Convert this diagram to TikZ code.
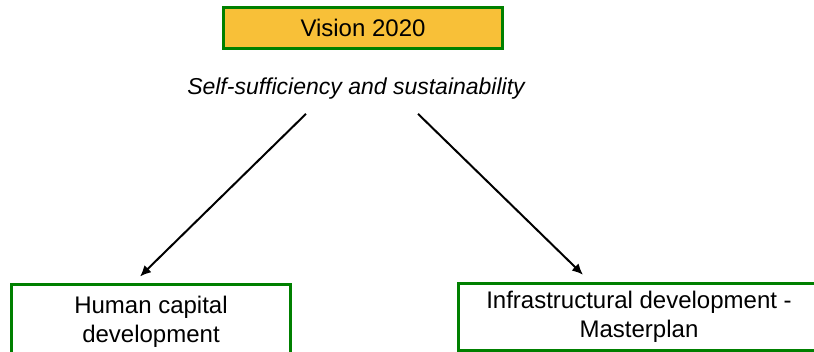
\documentclass[tikz,border=0pt]{standalone}
\usepackage{fontspec}
\setmainfont{Liberation Sans}
\usetikzlibrary{arrows.meta}
\definecolor{boxgreen}{RGB}{0,128,0}
\definecolor{visionfill}{RGB}{248,192,56}
\tikzset{
  greenbox/.style={draw=boxgreen, line width=1.5pt, align=center, inner sep=0pt, font=\fontsize{12}{14.5}\selectfont},
  link/.style={line width=1pt, -{Latex[length=5.5pt,width=5pt]}}
}
\begin{document}
\begin{tikzpicture}[x=0.5pt,y=-0.5pt]
  \useasboundingbox (0,0) rectangle (814,352);
  \clip (0,0) rectangle (814,352);
  \node[greenbox, fill=visionfill, minimum width=139.5pt, minimum height=20.5pt] (vision) at (363,28) {Vision 2020};
  \node[anchor=base, font=\fontsize{11.5}{14}\selectfont\itshape] (goal) at (356,95) {Self-sufficiency and sustainability};
  \node[greenbox, minimum width=139.5pt, minimum height=37pt] (human) at (151,321.5) {Human capital\\development};
  \node[greenbox, minimum width=180.5pt, minimum height=33.25pt] (infra) at (639,317) {Infrastructural development -\\Masterplan};
  \draw[link] ([xshift=-25pt,yshift=-3.5pt]goal.south) -- ([xshift=-5.5pt,yshift=3.25pt]human.north);
  \draw[link] ([xshift=31pt,yshift=-3.5pt]goal.south) -- ([xshift=-28pt,yshift=3.75pt]infra.north);
\end{tikzpicture}
\end{document}
